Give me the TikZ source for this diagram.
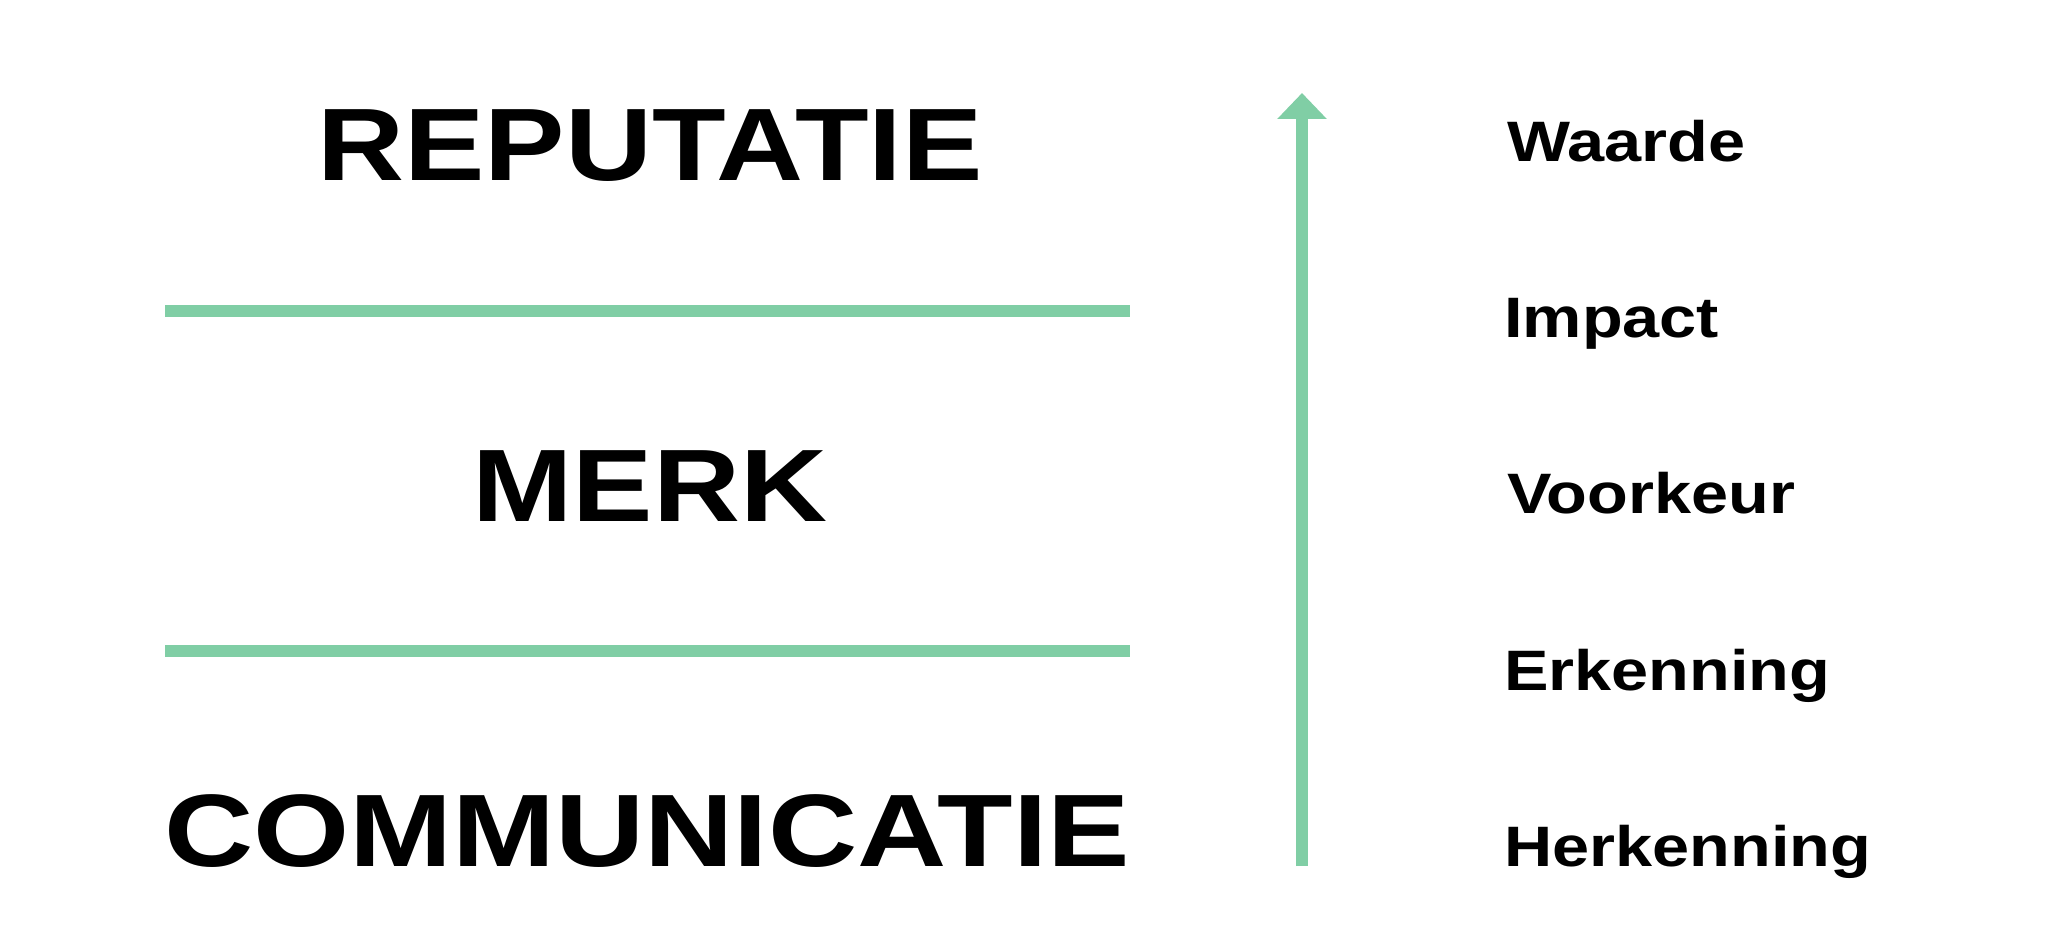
\documentclass[tikz,border=0pt]{standalone}
\usepackage{fontspec}
\newfontfamily\widefont[FakeStretch=1.17]{Liberation Sans Bold}
\newfontfamily\widerfont[FakeStretch=1.20]{Liberation Sans Bold}
\usetikzlibrary{arrows.meta}
\definecolor{mint}{RGB}{128,206,165}
\begin{document}
\begin{tikzpicture}[x=1pt,y=-1pt,
  big/.style={font=\widefont\fontsize{103}{103}\selectfont, inner sep=0pt, anchor=base},
  lvl/.style={font=\widefont\fontsize{57}{57}\selectfont, inner sep=0pt, anchor=base west},
  rule/.style={draw=mint, line width=12pt},
  up/.style={draw=mint, line width=12pt, -{Triangle[width=48pt,length=26pt]}}]
\useasboundingbox (0,0) rectangle (2048,928);
\fill[white] (0,0) rectangle (2048,928);
% big labels
\node[big] (rep) at (650,181) {REPUTATIE};
\node[big] (merk) at (650,521) {MERK};
\node[big, font=\widerfont\fontsize{103}{103}\selectfont] (comm) at (647,866) {COMMUNICATIE};
% separator lines
\coordinate (l1a) at (165,311); \coordinate (l1b) at (1130,311);
\coordinate (l2a) at (165,651); \coordinate (l2b) at (1130,651);
\draw[rule] (l1a) -- (l1b);
\draw[rule] (l2a) -- (l2b);
% arrow
\coordinate (abot) at (1302,866);
\coordinate (atop) at (1302,93);
\draw[up] (abot) -- (atop);
% right labels
\node[lvl] (waarde) at (1507,162) {Waarde};
\node[lvl] (impact) at (1504,337) {Impact};
\node[lvl] (voorkeur) at (1507,513) {Voorkeur};
\node[lvl] (erkenning) at (1504,690) {Erkenning};
\node[lvl] (herkenning) at (1504,866) {Herkenning};
\end{tikzpicture}
\end{document}
